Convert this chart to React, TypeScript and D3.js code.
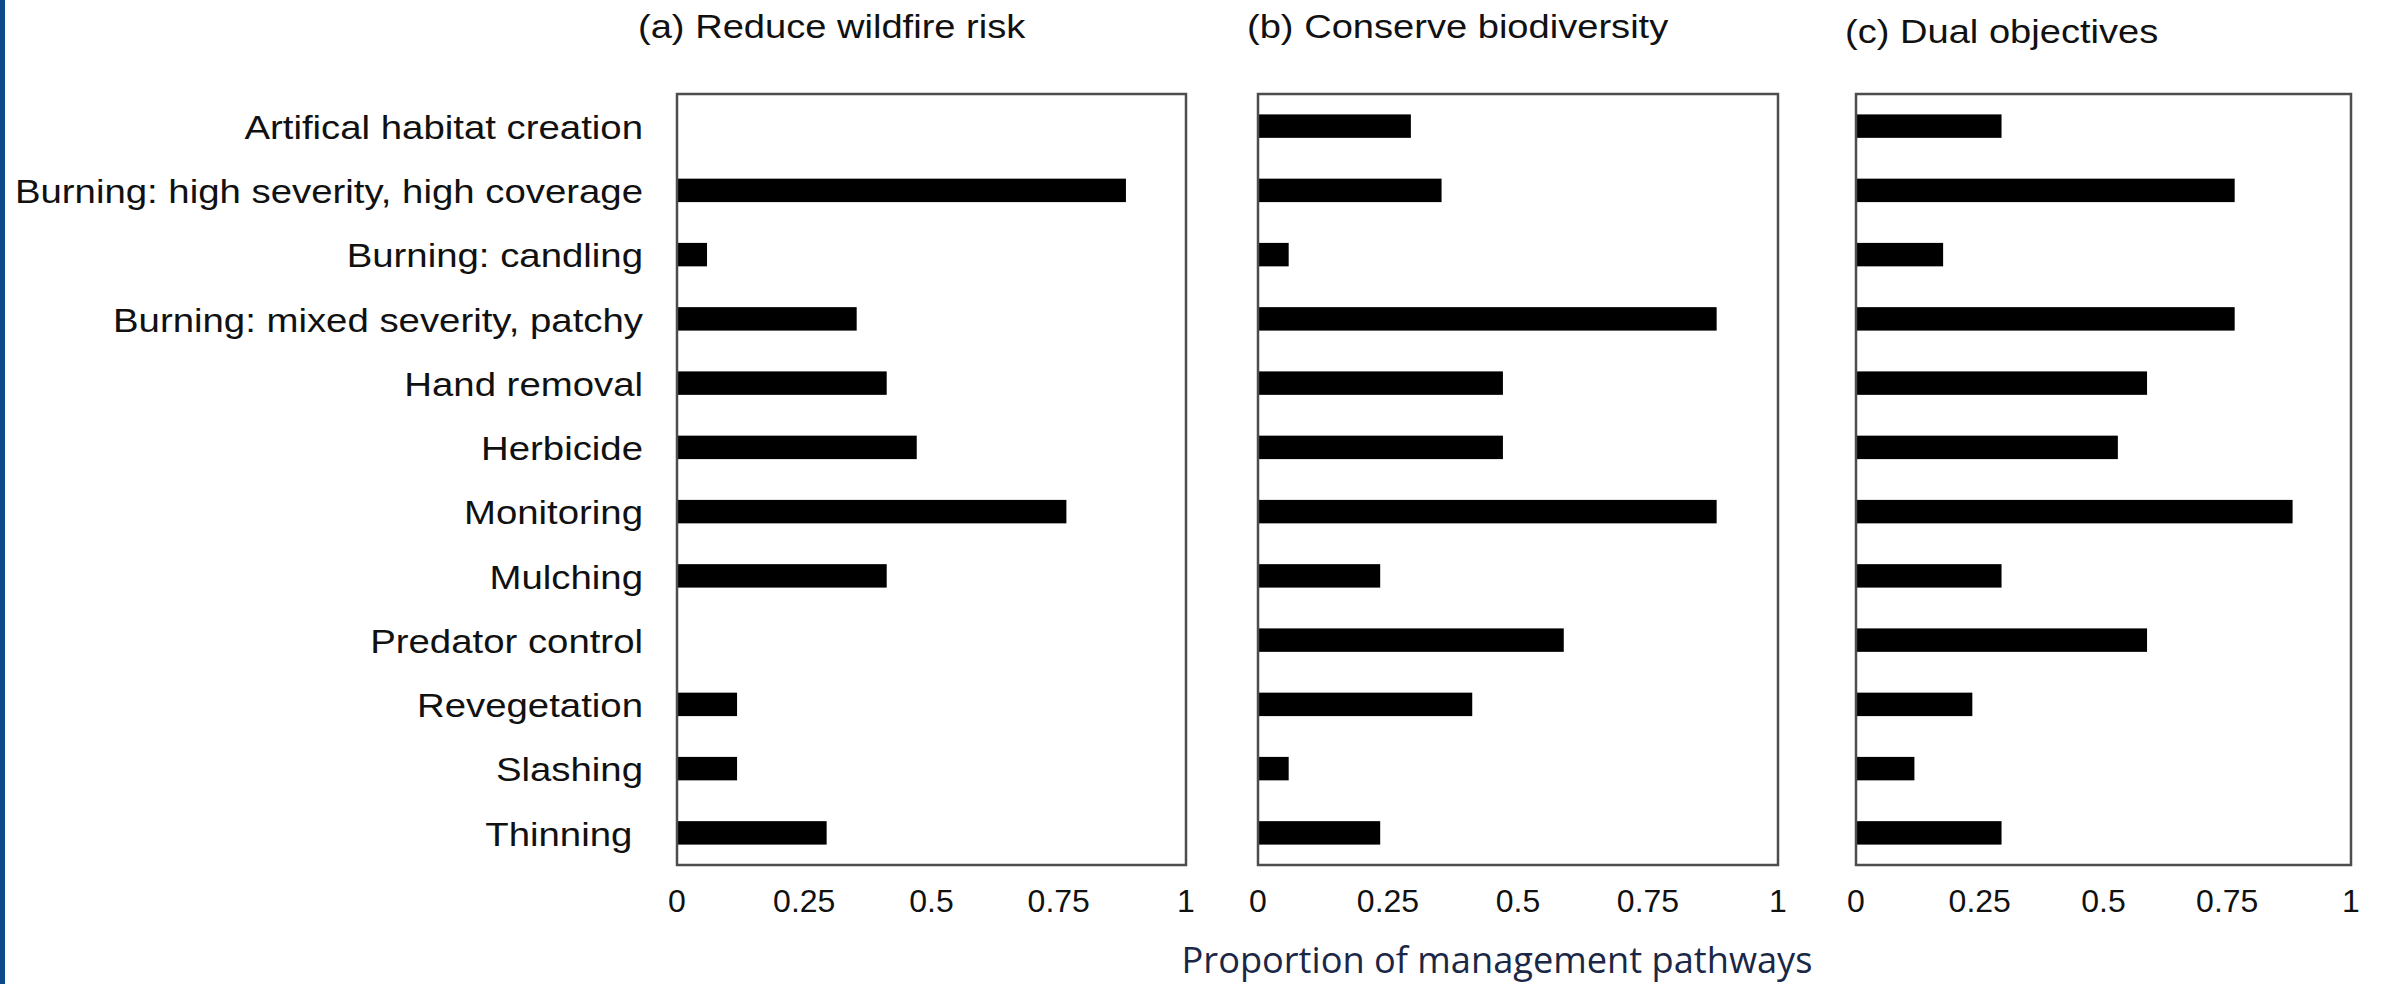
import React from "react";
import * as d3 from "d3";

const categories = [
  "Artifical habitat creation",
  "Burning: high severity, high coverage",
  "Burning: candling",
  "Burning: mixed severity, patchy",
  "Hand removal",
  "Herbicide",
  "Monitoring",
  "Mulching",
  "Predator control",
  "Revegetation",
  "Slashing",
  "Thinning ",
];

const wildfireValues = [0, 0.882, 0.059, 0.353, 0.412, 0.471, 0.765, 0.412, 0, 0.118, 0.118, 0.294];
const biodiversityValues = [0.294, 0.353, 0.059, 0.882, 0.471, 0.471, 0.882, 0.235, 0.588, 0.412, 0.059, 0.235];
const dualValues = [0.294, 0.765, 0.176, 0.765, 0.588, 0.529, 0.882, 0.294, 0.588, 0.235, 0.118, 0.294];

const panelTitles = ["(a) Reduce wildfire risk", "(b) Conserve biodiversity", "(c) Dual objectives"];
const tickValues = [0, 0.25, 0.5, 0.75, 1];
const tickLabels = ["0", "0.25", "0.5", "0.75", "1"];
const axisTitle = "Proportion of management pathways";

const W = 2382;
const H = 984;
const TOP = 94;
const BOTTOM = 865;
const panelX = [
  [677, 1186],
  [1258, 1778],
  [1856, 2351],
];
const titleX = [638, 1247, 1845];
const titleY = [38, 38, 43];
const LABEL_SX = 1.145;
const TITLE_SX = 1.155;
const FONT = "'Liberation Sans', Arial, Helvetica, sans-serif";

export default function App() {
  const series = [wildfireValues, biodiversityValues, dualValues];
  const y = d3
    .scaleBand<string>()
    .domain(categories)
    .range([TOP, BOTTOM])
    .paddingInner(0.635)
    .paddingOuter(0.3175);

  return (
    <svg
      width={W}
      height={H}
      style={{ position: "absolute", left: 0, top: 0, background: "#fff" }}
    >
      <rect x={0} y={0} width={W} height={H} fill="#fff" />
      <rect x={0} y={0} width={5} height={H} fill="#0c4a8c" />

      {categories.map((c) => (
        <text
          key={c}
          transform={`translate(${panelX[0][0] - 34},${(y(c) as number) + y.bandwidth() / 2 + 1}) scale(${LABEL_SX},1)`}
          textAnchor="end"
          dominantBaseline="central"
          fontFamily={FONT}
          fontSize={33.5}
          fill="#111"
          style={{ whiteSpace: "pre" }}
        >
          {c}
        </text>
      ))}

      {series.map((vals, pi) => {
        const x = d3.scaleLinear().domain([0, 1]).range(panelX[pi]);
        return (
          <g key={pi}>
            <text
              transform={`translate(${titleX[pi]},${titleY[pi]}) scale(${TITLE_SX},1)`}
              fontFamily={FONT}
              fontSize={33}
              fill="#111"
            >
              {panelTitles[pi]}
            </text>
            {vals.map((v, i) => (
              <rect
                key={i}
                x={x(0)}
                y={y(categories[i]) as number}
                width={Math.max(0, x(v) - x(0))}
                height={y.bandwidth()}
                fill="#000"
              />
            ))}
            <rect
              x={x(0)}
              y={TOP}
              width={x(1) - x(0)}
              height={BOTTOM - TOP}
              fill="none"
              stroke="#4d4d4d"
              strokeWidth={2.5}
            />
            {tickValues.map((t, ti) => (
              <text
                key={ti}
                x={x(t)}
                y={912}
                textAnchor="middle"
                fontFamily={FONT}
                fontSize={32}
                fill="#111"
              >
                {tickLabels[ti]}
              </text>
            ))}
          </g>
        );
      })}

      <text
        x={1497}
        y={973}
        textAnchor="middle"
        fontFamily="'Open Sans', 'Noto Sans', sans-serif"
        fontSize={36.2}
        fill="#1b2746"
      >
        {axisTitle}
      </text>
    </svg>
  );
}
